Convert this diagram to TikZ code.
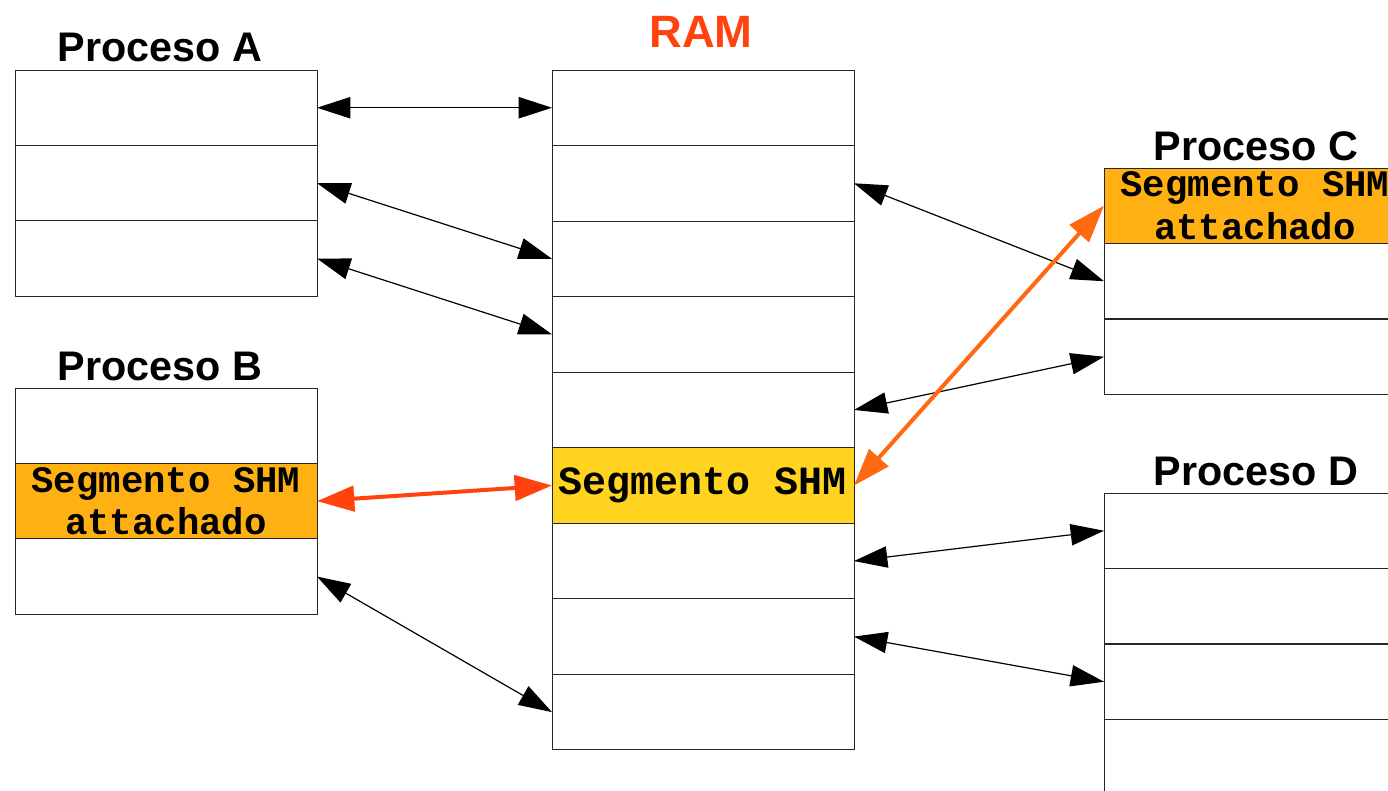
\documentclass[tikz,border=0pt]{standalone}
\usepackage{fontspec}
\setmainfont{Liberation Sans}
\setmonofont{Liberation Mono}
\usetikzlibrary{arrows.meta}
\definecolor{ramred}{HTML}{FF420E}
\definecolor{shmgold}{HTML}{FFD320}
\definecolor{shmorange}{HTML}{FFB114}
\definecolor{linkorange}{HTML}{FF6A10}
\begin{document}
\begin{tikzpicture}[x=0.75pt,y=-0.75pt,
  cell/.style={draw=black!85, line width=0.75pt, minimum width=226.5pt,
    minimum height=56.6pt, inner sep=0pt, outer sep=0pt, anchor=north west},
  title/.style={font=\fontsize{31}{31}\selectfont\bfseries, anchor=base},
  shmtext/.style={font=\fontsize{28}{32}\selectfont\ttfamily\bfseries, align=center},
  link/.style={{Triangle[length=25pt,width=16pt]}-{Triangle[length=25pt,width=16pt]},
    line width=0.9pt, draw=black},
  shmlink/.style={{Triangle[length=28pt,width=19pt]}-{Triangle[length=28pt,width=19pt]},
    line width=3pt}]
\clip (0,0) rectangle (1388,790);
\fill[white] (0,0) rectangle (1388,790);

% titles
\node[title] (tA) at (160,61) {Proceso A};
\node[title] (tB) at (160,380) {Proceso B};
\node[title] (tC) at (1256,160) {Proceso C};
\node[title] (tD) at (1256,485) {Proceso D};
\node[title, text=ramred, font=\fontsize{34}{34}\selectfont\bfseries] (tR) at (701,47) {RAM};

% process A
\foreach \i in {1,2,3}
  \node[cell] (A\i) at (15,{70+75.4*(\i-1)}) {};

% process B
\node[cell] (B1) at (15,388) {};
\node[cell, fill=shmorange, shmtext] (B2) at (15,463.4) {Segmento SHM\\attachado};
\node[cell] (B3) at (15,538.8) {};

% RAM
\foreach \i in {1,...,9}
  \node[cell] (R\i) at (552,{70+75.55*(\i-1)}) {};
\node[cell, fill=shmgold, font=\fontsize{30}{32}\selectfont\ttfamily\bfseries]
  (R6) at (552,447.75) {Segmento SHM};

% process C
\node[cell, fill=shmorange, shmtext] (C1) at (1104,168) {Segmento SHM\\attachado};
\node[cell] (C2) at (1104,243.5) {};
\node[cell] (C3) at (1104,319) {};

% process D
\foreach \i in {1,...,4}
  \node[cell] (D\i) at (1104,{493+75.5*(\i-1)}) {};

% mappings of the private pages
\draw[link] (A1.east) -- (R1.west);
\draw[link] (A2.east) -- (R3.west);
\draw[link] (A3.east) -- (R4.west);
\draw[link] (B3.east) -- (R9.west);
\draw[link] (R2.east) -- (C2.west);
\draw[link] (R5.east) -- (C3.west);
\draw[link] (R7.east) -- (D1.west);
\draw[link] (R8.east) -- (D3.west);

% mappings of the shared segment
\draw[shmlink, draw=ramred] (B2.east) -- (R6.west);
\draw[shmlink, draw=linkorange] (R6.east) -- (C1.west);
\end{tikzpicture}
\end{document}
